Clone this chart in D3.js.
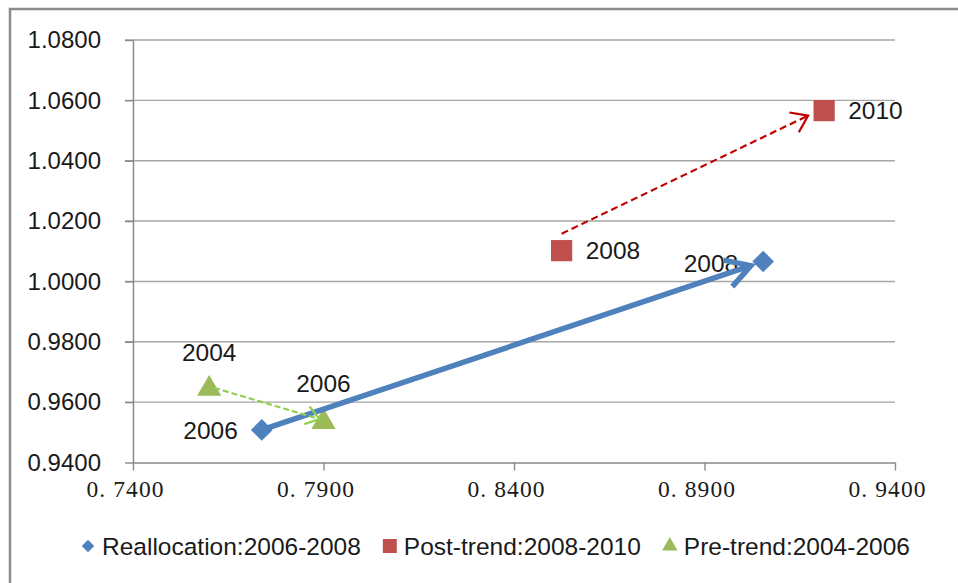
<!DOCTYPE html>
<html>
<head>
<meta charset="utf-8">
<script src="https://cdn.jsdelivr.net/npm/d3@7"></script>
<style>
  html, body { margin: 0; padding: 0; background: #fff; }
  svg { display: block; }
</style>
</head>
<body>
<svg id="chart" width="958" height="583"></svg>
<script>
// Axis ticks
const xTicks = [0.74, 0.79, 0.84, 0.89, 0.94];
const yTicks = [0.94, 0.96, 0.98, 1.00, 1.02, 1.04, 1.06, 1.08];

// Series: Reallocation 2006-2008
const reallocX = [0.7738, 0.9054];
const reallocY = [0.9508, 1.0066];
const reallocYears = ["2006", "2008"];

// Series: Post-trend 2008-2010
const postX = [0.8525, 0.9214];
const postY = [1.0102, 1.0566];
const postYears = ["2008", "2010"];

// Series: Pre-trend 2004-2006
const preX = [0.7600, 0.7900];
const preY = [0.9644, 0.9534];
const preYears = ["2004", "2006"];

const legendNames = ["Reallocation:2006-2008", "Post-trend:2008-2010", "Pre-trend:2004-2006"];

const BLUE = "#4F81BD", RED = "#C0504D", GREEN = "#9BBB59";
const TEXT = "#1a1a1a", AXIS = "#8a8a8a", GRID = "#a6a6a6";
const SANS = "'Liberation Sans', Arial, sans-serif";
const SERIF = "'Liberation Serif', 'Times New Roman', serif";
const FONT_SIZE = 24.5;

const svg = d3.select("#chart");

// Outer chart frame (top and left edges)
svg.append("path")
  .attr("d", "M10,583 L10,9 L958,9")
  .attr("fill", "none").attr("stroke", "#8c8c8c").attr("stroke-width", 2.5);

const x = d3.scaleLinear().domain([0.74, 0.94]).range([133, 895]);
const y = d3.scaleLinear().domain([0.94, 1.08]).range([462.5, 40]);

// Horizontal gridlines
svg.append("g").selectAll("line").data(yTicks.slice(1)).join("line")
  .attr("x1", x.range()[0] - 8).attr("x2", x.range()[1])
  .attr("y1", d => y(d)).attr("y2", d => y(d))
  .attr("stroke", GRID).attr("stroke-width", 1.4);

// Y axis
const yAxis = svg.append("g")
  .attr("transform", `translate(${x.range()[0]},0)`)
  .call(d3.axisLeft(y).tickValues(yTicks).tickFormat(d3.format(".4f")).tickSize(8).tickSizeOuter(0).tickPadding(24));
yAxis.select(".domain").attr("stroke", AXIS).attr("stroke-width", 1.5);
yAxis.selectAll(".tick line").attr("stroke", AXIS).attr("stroke-width", 1.4);
yAxis.selectAll(".tick text")
  .attr("font-family", SANS).attr("font-size", 24).attr("fill", TEXT);

// X axis
const xAxis = svg.append("g")
  .attr("transform", `translate(0,${y.range()[0]})`)
  .call(d3.axisBottom(x).tickValues(xTicks).tickFormat(d => "0. " + d3.format(".4f")(d).slice(2)).tickSize(8).tickSizeOuter(0).tickPadding(10));
xAxis.select(".domain").attr("stroke", AXIS).attr("stroke-width", 1.5);
xAxis.selectAll(".tick line").attr("stroke", AXIS).attr("stroke-width", 1.4);
xAxis.selectAll(".tick text")
  .attr("font-family", SERIF).attr("font-size", 23.5).attr("letter-spacing", 1.1)
  .attr("dx", -8).attr("fill", TEXT);

// Marker shapes
const diamond = d3.symbol().type(d3.symbolDiamond2).size(300);
const square = d3.symbol().type(d3.symbolSquare).size(450);
const triangle = d3.symbol().type(d3.symbolTriangle2).size(420);

const series = [
  { xs: reallocX, ys: reallocY, years: reallocYears, color: BLUE, shape: diamond },
  { xs: postX, ys: postY, years: postYears, color: RED, shape: square },
  { xs: preX, ys: preY, years: preYears, color: GREEN, shape: triangle }
];

series.forEach(s => {
  svg.append("g").selectAll("path").data(s.xs.map((v, i) => [v, s.ys[i]])).join("path")
    .attr("transform", d => `translate(${x(d[0])},${y(d[1])})`)
    .attr("d", s.shape)
    .attr("fill", s.color);
});

// Year labels
function label(px, py, txt, dx, dy, anchor) {
  svg.append("text")
    .attr("x", x(px) + dx).attr("y", y(py) + dy)
    .attr("text-anchor", anchor).attr("dy", "0.35em")
    .attr("font-family", SANS).attr("font-size", FONT_SIZE).attr("fill", TEXT)
    .text(txt);
}
label(reallocX[0], reallocY[0], reallocYears[0], -24, 1, "end");
label(reallocX[1], reallocY[1], reallocYears[1], -25, 2, "end");
label(postX[0], postY[0], postYears[0], 24, 0, "start");
label(postX[1], postY[1], postYears[1], 24, 0, "start");
label(preX[0], preY[0], preYears[0], 0, -36, "middle");
label(preX[1], preY[1], preYears[1], 0, -39, "middle");

// Arrow: a line from p0 to p1 with an open head at p1
function arrow(p0, p1, color, width, dash, headLen, headDeg) {
  const g = svg.append("g");
  g.append("line")
    .attr("x1", p0[0]).attr("y1", p0[1]).attr("x2", p1[0]).attr("y2", p1[1])
    .attr("stroke", color).attr("stroke-width", width)
    .attr("stroke-dasharray", dash);
  const back = Math.atan2(p0[1] - p1[1], p0[0] - p1[0]);
  const a = headDeg * Math.PI / 180;
  const arm = t => [p1[0] + headLen * Math.cos(back + t), p1[1] + headLen * Math.sin(back + t)];
  g.append("path")
    .attr("d", d3.line()([arm(a), p1, arm(-a)]))
    .attr("fill", "none").attr("stroke", color).attr("stroke-width", width)
    .attr("stroke-linejoin", "miter");
}

// Reallocation move: solid, ends just short of the 2008 marker
{
  const p0 = [x(reallocX[0]), y(reallocY[0])];
  const c1 = [x(reallocX[1]), y(reallocY[1])];
  const len = Math.hypot(c1[0] - p0[0], c1[1] - p0[1]);
  const trim = 13;
  const p1 = [c1[0] - (c1[0] - p0[0]) * trim / len, c1[1] - (c1[1] - p0[1]) * trim / len];
  arrow(p0, p1, BLUE, 5.5, null, 28, 30);
}
// Pre-trend move: dashed green
arrow([x(preX[0]) + 5, y(preY[0]) - 1], [x(preX[1]) - 4, y(preY[1]) - 3], "#92D050", 2.2, "6,3", 16, 35);
// Post-trend move: dashed red
arrow([x(postX[0]), y(postY[0]) - 17], [x(postX[1]) - 16, y(postY[1]) + 5], "#C00000", 2.2, "7,4", 19, 35);

// Legend
const legendY = 546;
let lx = 88; // centre of the first legend marker
const legendShapes = [
  { shape: d3.symbol().type(d3.symbolDiamond2).size(100), color: BLUE },
  { shape: d3.symbol().type(d3.symbolSquare).size(196), color: RED },
  { shape: d3.symbol().type(d3.symbolTriangle2).size(170), color: GREEN }
];
legendNames.forEach((name, i) => {
  const s = legendShapes[i];
  svg.append("path")
    .attr("transform", `translate(${lx},${legendY})`)
    .attr("d", s.shape).attr("fill", s.color);
  const t = svg.append("text")
    .attr("x", lx + 14).attr("y", legendY).attr("dy", "0.35em")
    .attr("font-family", SANS).attr("font-size", FONT_SIZE).attr("fill", TEXT)
    .text(name);
  lx = lx + 14 + t.node().getComputedTextLength() + 29;
});
</script>
</body>
</html>
